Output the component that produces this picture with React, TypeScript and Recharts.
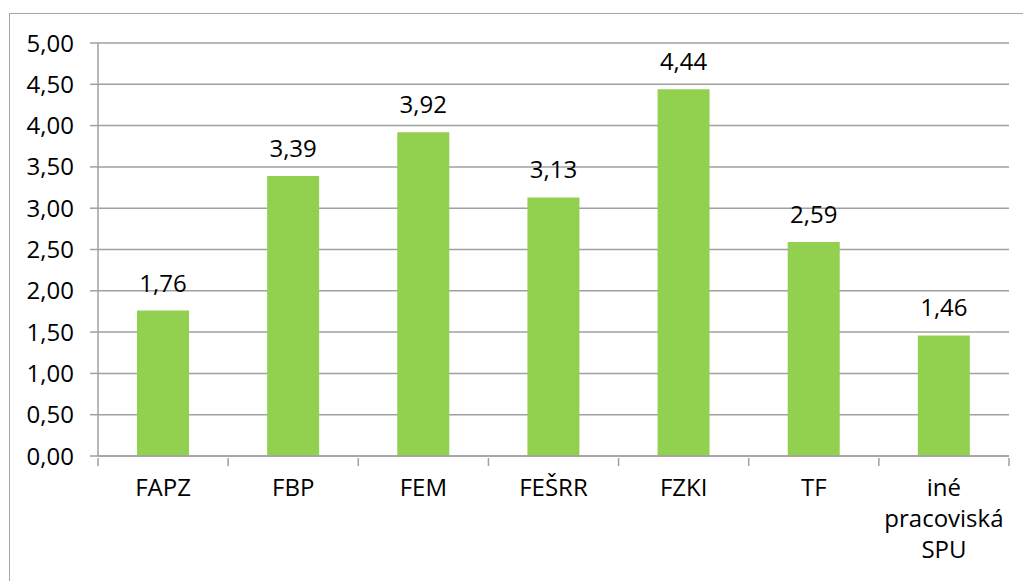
import React from "react";
import {
  Bar,
  BarChart,
  CartesianGrid,
  LabelList,
  XAxis,
  YAxis,
} from "recharts";

const categories = ["FAPZ", "FBP", "FEM", "FEŠRR", "FZKI", "TF", "iné pracoviská SPU"];
const values = [1.76, 3.39, 3.92, 3.13, 4.44, 2.59, 1.46];
const yTicks = [0, 0.5, 1, 1.5, 2, 2.5, 3, 3.5, 4, 4.5, 5];

const W = 1023;
const H = 581;
const FONT = "'Open Sans', sans-serif";
const FS = 24;
const GRID = "#A0A0A0";

// plot box
const LEFT = 98;
const RIGHT = 1009;
const TOP = 43;
const BOTTOM = 456;
const STEP = (RIGHT - LEFT) / categories.length;

const fmt = (v: number) => v.toFixed(2).replace(".", ",");

const CategoryTick = (props: any) => {
  const { x, y, payload, index } = props;
  const label: string = payload.value;
  const lines = label.length > 8 ? label.split(" ") : [label];
  const left = x - STEP / 2;
  return (
    <g>
      <line x1={left} y1={y - 8} x2={left} y2={y} stroke={GRID} strokeWidth={1.5} />
      {index === categories.length - 1 && (
        <line x1={left + STEP} y1={y - 8} x2={left + STEP} y2={y} stroke={GRID} strokeWidth={1.5} />
      )}
      <text x={x} y={y + 30} textAnchor="middle" fontFamily={FONT} fontSize={FS} fill="#000">
        {lines.map((l, i) => (
          <tspan key={i} x={x} dy={i === 0 ? 0 : 31}>
            {l}
          </tspan>
        ))}
      </text>
    </g>
  );
};

export default function App() {
  const data = categories.map((name, i) => ({ name, value: values[i] }));

  return (
    <div
      style={{
        position: "fixed",
        left: 0,
        top: 0,
        width: W,
        height: H,
        overflow: "hidden",
        background: "#fff",
      }}
    >
      <div
        style={{
          position: "absolute",
          left: 9,
          top: 13,
          width: 1040,
          height: 640,
          border: "1.5px solid #A6A6A6",
        }}
      />
      <div style={{ position: "absolute", left: 0, top: 0 }}>
        <BarChart
          width={W}
          height={H}
          data={data}
          margin={{ top: TOP, right: W - RIGHT, bottom: H - BOTTOM - 60, left: 10 }}
          barSize={52}
        >
          <CartesianGrid vertical={false} stroke={GRID} strokeWidth={1.5} />
          <XAxis
            dataKey="name"
            height={60}
            interval={0}
            axisLine={{ stroke: GRID, strokeWidth: 1.5 }}
            tickLine={false}
            tick={<CategoryTick />}
            tickSize={8}
          />
          <YAxis
            width={LEFT - 10}
            domain={[0, 5]}
            ticks={yTicks}
            interval={0}
            tickFormatter={fmt}
            axisLine={{ stroke: GRID, strokeWidth: 1.5 }}
            tickLine={{ stroke: GRID, strokeWidth: 1.5 }}
            tickSize={8}
            tickMargin={16}
            tick={{ fill: "#000", fontSize: FS, fontFamily: FONT }}
          />
          <Bar dataKey="value" fill="#92D050" isAnimationActive={false}>
            <LabelList
              dataKey="value"
              position="top"
              offset={19}
              formatter={(v: any) => fmt(Number(v))}
              style={{ fill: "#000", fontSize: FS, fontFamily: FONT }}
            />
          </Bar>
        </BarChart>
      </div>
    </div>
  );
}
